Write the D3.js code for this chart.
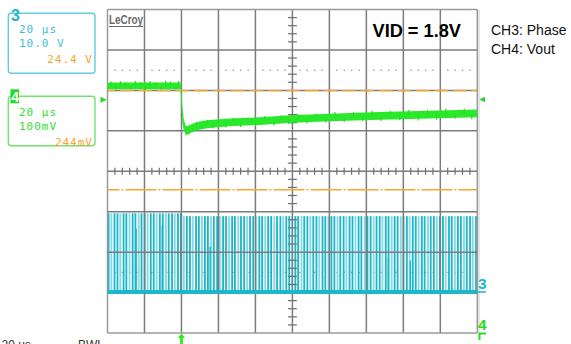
<!DOCTYPE html>
<html><head><meta charset="utf-8">
<script src="https://cdn.jsdelivr.net/npm/d3@7"></script>
<style>body{margin:0;background:#fff}svg{display:block}</style>
</head><body><svg id="c" width="571" height="344"></svg>
<script>
// ---- data ----
// Vout (CH4), mV relative to channel marker, vs time (µs, trigger = 0)
const vTime = [-40, -20, -0.5, 0, 0.5, 1.1, 2.2, 3.2, 5.4, 9.7, 15.1, 25.9, 42.2, 58.4, 80, 107, 134, 160];
const vMid  = [31, 31, 31, -2, -40, -62, -77, -79, -74, -67, -63, -59, -56, -51, -47, -43, -40, -37];
const vHalf = [8.5, 8.5, 8.5, 20, 20, 14, 10, 10, 10, 10, 10, 9.5, 9.5, 9.5, 9.5, 9.5, 9.5, 9.5];
const vSpikes = [[-38,11],[-35.5,-9],[-33,12],[-30,10],[-27.5,-8],[-25,13],[-22,9],[-19.5,-10],[-17,12],[-14,10],[-11,-9],[-8.5,13],[-6,11],[-3,-8],[-1.5,12],
 [2.5,-14],[4,-12],[6,-10],[8,12],[11,-11],[14,11],[17,-12],[20,10],[24,-12],[28,11],[32,-13],[36,10],[40,-12],[45,12],[50,-13],[54,11],[58,-12],[63,12],[68,-13],[73,11],[78,-12],[83,13],[88,-13],[93,11],[98,-12],[103,13],[108,-13],[113,12],[118,-12],[123,13],[128,-14],[133,12],[138,-13],[143,14],[148,-12],[153,13],[157,-14]];
// Phase (CH3) switching pulses, µs
const phasePulses = [-39.4,-37.9,-36.2,-34.6,-33.1,-31.3,-29.8,-28.1,-26.4,-24.9,-23.1,-21.6,-19.9,-18.3,-16.6,-15.0,-13.4,-11.7,-10.1,-8.4,-6.9,-5.1,-3.6,-1.9,-0.4,
 1.3,2.9,4.6,6.1,7.9,9.4,11.1,12.7,14.3,16.0,17.5,19.3,20.8,22.5,24.1,25.7,27.4,28.9,30.7,32.2,33.9,35.5,37.1,38.8,40.3,42.1,43.6,45.3,46.9,48.5,50.2,51.7,53.5,55.0,56.7,58.3,59.9,61.6,63.1,64.9,66.4,68.1,69.7,71.3,73.0,74.5,76.3,77.8,79.5,81.1,82.7,84.4,85.9,87.7,89.2,90.9,92.5,94.1,95.8,97.3,99.1,100.6,102.3,103.9,105.5,107.2,108.7,110.5,112.0,113.7,115.3,116.9,118.6,120.1,121.9,123.4,125.1,126.7,128.3,130.0,131.5,133.3,134.8,136.5,138.1,139.7,141.4,142.9,144.7,146.2,147.9,149.5,151.1,152.8,154.3,156.1,157.6,159.3];
const phaseHighTime = [-40, 0];      // level changes at trigger
const phaseHighV = [19.6, 18.9];
const shortPulses = [[-24.5,15.8],[-10.4,16.6],[15.5,11.4],[111.9,8.7],[123.8,7.9]];
const ch3Info = ["20 µs", "10.0 V", "24.4 V"];
const ch4Info = ["20 µs", "100mV", "244mV"];
const legend = ["CH3: Phase", "CH4: Vout"];
const title = "VID = 1.8V";

// ---- scales ----
const svg = d3.select("#c");
const x = d3.scaleLinear().domain([-40, 160]).range([107.5, 477.3]);
const yDiv = d3.scaleLinear().domain([-4, 4]).range([333, 9.5]);
const yV = mv => yDiv(mv / 100 + 1.8);
const yP = v => yDiv(v / 10 - 3);
const hiAt = t => t < phaseHighTime[1] ? phaseHighV[0] : phaseHighV[1];

// dotted reference lines (under traces)
const dotsX = d3.range(0, 50).filter(k => k % 5 !== 0).map(k => 107.5 + k * 369.8 / 50);
[2.5, -2.5].forEach(d => {
  svg.append("g").selectAll("rect").data(dotsX).join("rect")
    .attr("x", v => v - 0.6).attr("y", yDiv(d) - 0.6).attr("width", 1.4).attr("height", 1.4).attr("fill", "#a0a0a0");
});

// ---- CH3 phase ----
const gp = svg.append("g");
gp.selectAll("rect.p").data(phasePulses).join("rect").attr("class", "p")
  .attr("x", t => x(t) - 0.9).attr("width", 1.8)
  .attr("y", t => yP(hiAt(t))).attr("height", t => yP(0) - yP(hiAt(t)))
  .attr("fill", (t, i) => i % 3 === 1 ? "#86d8e2" : "#18b6c8");
gp.selectAll("rect.s").data(shortPulses).join("rect").attr("class", "s")
  .attr("x", d => x(d[0]) - 0.7).attr("width", 1.4)
  .attr("y", d => yP(d[1])).attr("height", d => yP(0) - yP(d[1]))
  .attr("fill", "#18b6c8");

// ---- grid ----
const gg = svg.append("g").attr("stroke", "#7c7c7c").attr("stroke-width", 1.5);
d3.range(-40, 161, 20).forEach(t => gg.append("line").attr("x1", x(t)).attr("x2", x(t)).attr("y1", yDiv(-4)).attr("y2", yDiv(4))
  .attr("stroke", (t === -40 || t === 160) ? "#9a9a9a" : null));
d3.range(-4, 5).forEach(d => gg.append("line").attr("x1", x(-40)).attr("x2", x(160)).attr("y1", yDiv(d)).attr("y2", yDiv(d))
  .attr("stroke", (d === -4 || d === 4) ? "#9a9a9a" : null));
svg.append("line").attr("x1", 479).attr("x2", 479).attr("y1", 10).attr("y2", 334).attr("stroke", "#dcdcdc").attr("stroke-width", 1.5);
// center ticks
const gt = svg.append("g").attr("stroke", "#6e6e6e").attr("stroke-width", 1.2);
d3.range(0, 50).filter(k => k % 5 !== 0).forEach(k => {
  const xx = 107.5 + k * 369.8 / 50;
  gt.append("line").attr("x1", xx).attr("x2", xx).attr("y1", yDiv(0) - 3.5).attr("y2", yDiv(0) + 3.5);
});
d3.range(0, 40).filter(k => k % 5 !== 0).forEach(k => {
  const yy = 9.5 + k * 323.5 / 40;
  gt.append("line").attr("x1", x(60) - 4.5).attr("x2", x(60) + 4.5).attr("y1", yy).attr("y2", yy);
});

// CH3 ground baseline drawn over grid
svg.append("line").attr("x1", x(-40)).attr("x2", x(160)).attr("y1", yP(0) - 0.5).attr("y2", yP(0) - 0.5)
  .attr("stroke", "#1cb8ca").attr("stroke-width", 4);

// ---- orange level lines ----
svg.append("line").attr("x1", x(-40)).attr("x2", x(160)).attr("y1", yDiv(2)).attr("y2", yDiv(2))
  .attr("stroke", "#f7a830").attr("stroke-width", 1.5).attr("stroke-dasharray", "13.5,5").attr("stroke-dashoffset", 6);
svg.append("line").attr("x1", x(-40)).attr("x2", x(160)).attr("y1", yDiv(-0.46)).attr("y2", yDiv(-0.46))
  .attr("stroke", "#f7a830").attr("stroke-width", 1.5).attr("stroke-dasharray", "31,2,2,2").attr("stroke-dashoffset", 19);

// ---- CH4 Vout ----
const vData = vTime.map((t, i) => ({t, m: vMid[i], h: vHalf[i]}));
svg.append("path").datum(vData)
  .attr("d", d3.area().x(d => x(d.t)).y0(d => yV(d.m - d.h)).y1(d => yV(d.m + d.h)))
  .attr("fill", "#2ae82a");
const midAt = t => { let i = d3.bisectRight(vTime, t) - 1; i = Math.max(0, Math.min(i, vTime.length - 2));
  const f = (t - vTime[i]) / (vTime[i+1] - vTime[i]); return vMid[i] + f * (vMid[i+1] - vMid[i]); };
svg.append("g").selectAll("line").data(vSpikes).join("line")
  .attr("x1", d => x(d[0])).attr("x2", d => x(d[0]))
  .attr("y1", d => yV(midAt(d[0]))).attr("y2", d => yV(midAt(d[0]) + d[1]))
  .attr("stroke", "#22e022").attr("stroke-width", 1.2);

// ---- LeCroy logo ----
svg.append("text").attr("x", 109).attr("y", 24).attr("textLength", 34).attr("lengthAdjust", "spacingAndGlyphs")
  .attr("font-family", "Liberation Sans, Arial").attr("font-weight", "bold").attr("font-size", 12).attr("fill", "#6a6a6a").text("LeCroy");
svg.append("line").attr("x1", 109).attr("x2", 143).attr("y1", 26.5).attr("y2", 26.5).attr("stroke", "#6a6a6a").attr("stroke-width", 1.2);

// ---- title & legend ----
svg.append("text").attr("x", 372.5).attr("y", 37.3).attr("font-family", "Liberation Sans, Arial")
  .attr("font-weight", "bold").attr("font-size", 18.2).attr("fill", "#000").text(title);
legend.forEach((s, i) => svg.append("text").attr("x", 491).attr("y", 35 + i * 19.3)
  .attr("font-family", "Liberation Sans, Arial").attr("font-size", 14).attr("fill", "#111").text(s));

// ---- channel info boxes ----
function infoBox(y0, h, col, txtCol, lines) {
  svg.append("rect").attr("x", 8.3).attr("y", y0).attr("width", 86.7).attr("height", h).attr("rx", 3)
    .attr("fill", "none").attr("stroke", col).attr("stroke-width", 1.4);
  const f = {"font-family": "DejaVu Sans Mono, monospace", "font-size": 11, "letter-spacing": 1};
  const t1 = svg.append("text").attr("x", 19).attr("y", y0 + 19.5).attr("fill", txtCol).text(lines[0]);
  const t2 = svg.append("text").attr("x", 19).attr("y", y0 + 33.3).attr("fill", txtCol).text(lines[1]);
  const t3 = svg.append("text").attr("x", 93).attr("y", y0 + 49.5).attr("text-anchor", "end").attr("fill", "#f5a32a").text(lines[2]);
  [t1, t2, t3].forEach(t => Object.entries(f).forEach(([k, v]) => t.attr(k, v)));
}
infoBox(13.3, 60, "#62cde0", "#3cbfd6", ch3Info);
infoBox(96.3, 49.5, "#6ee46e", "#30dd30", ch4Info);
svg.append("text").attr("x", 11).attr("y", 20.5).attr("font-family", "Liberation Sans Narrow, Arial Narrow, Liberation Sans")
  .attr("font-weight", "bold").attr("font-size", 16).attr("fill", "#1fb6cb").text("3");
svg.append("rect").attr("x", 10.5).attr("y", 89.3).attr("width", 8.5).attr("height", 14).attr("fill", "#22dd22");
svg.append("text").attr("x", 11.3).attr("y", 102).attr("font-family", "Liberation Sans Narrow, Liberation Sans")
  .attr("font-weight", "bold").attr("font-size", 14).attr("fill", "#fff").text("4");

// ---- markers ----
svg.append("path").attr("d", "M100.5,96.8 L106.8,99.8 L100.5,102.8 Z").attr("fill", "#2ad62a");
svg.append("path").attr("d", "M485,96.8 L479.3,99.5 L485,102.3 Z").attr("fill", "#2ad62a");
svg.append("text").attr("x", 478).attr("y", 289.3).attr("font-family", "Liberation Sans Narrow, Liberation Sans")
  .attr("font-weight", "bold").attr("font-size", 15.5).attr("fill", "#1fb6cb").text("3");
svg.append("line").attr("x1", 478).attr("x2", 486).attr("y1", 292).attr("y2", 292).attr("stroke", "#1fb6cb").attr("stroke-width", 1.5);
svg.append("text").attr("x", 478).attr("y", 329.5).attr("font-family", "Liberation Sans Narrow, Liberation Sans")
  .attr("font-weight", "bold").attr("font-size", 15.5).attr("fill", "#22dd22").text("4");
svg.append("path").attr("d", "M478.5,333.5 H486 M479.5,333.5 V340").attr("stroke", "#22dd22").attr("stroke-width", 2).attr("fill", "none");
svg.append("path").attr("d", `M${x(0)},333.5 L${x(0)+3.6},338 L${x(0)+1.4},338 L${x(0)+1.4},344 L${x(0)-1.4},344 L${x(0)-1.4},338 L${x(0)-3.6},338 Z`).attr("fill", "#22ee22");

// ---- bottom (cut-off, as in the reference) status text ----
svg.append("text").attr("x", 1.5).attr("y", 348.5).attr("font-family", "Liberation Sans, Arial").attr("font-size", 12).attr("fill", "#333").text("20 µs");
svg.append("text").attr("x", 78).attr("y", 348.5).attr("font-family", "Liberation Sans, Arial").attr("font-size", 12).attr("fill", "#333").text("BWL");
</script></body></html>
